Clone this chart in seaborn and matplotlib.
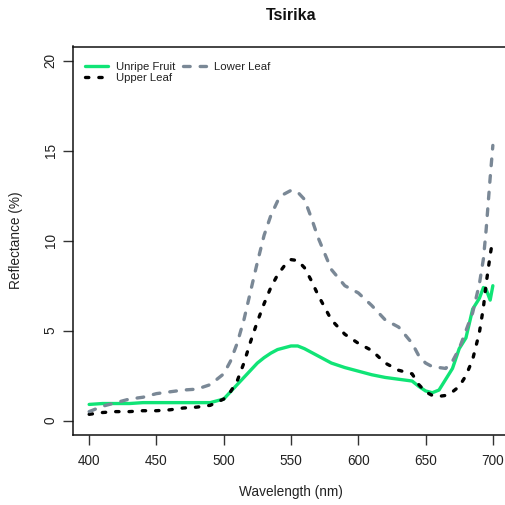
import matplotlib
matplotlib.use("Agg")
import matplotlib.pyplot as plt
import seaborn as sns
import pandas as pd

wavelength = [400, 410, 420, 430, 440, 450, 460, 470, 480, 490, 500, 505, 510, 515,
              520, 525, 530, 535, 540, 545, 550, 555, 560, 565, 570, 580, 590, 600,
              610, 620, 630, 640, 645, 650, 655, 660, 665, 670, 675, 680, 685, 690,
              693, 695, 698, 700]
unripe_fruit = [0.9, 0.95, 0.95, 0.95, 1.0, 1.0, 1.0, 1.0, 1.0, 1.0, 1.2, 1.6, 2.0, 2.4,
                2.8, 3.2, 3.5, 3.75, 3.95, 4.05, 4.15, 4.15, 4.0, 3.8, 3.6, 3.2, 2.95, 2.75,
                2.55, 2.4, 2.3, 2.2, 1.9, 1.65, 1.55, 1.7, 2.3, 2.9, 4.0, 4.6, 6.2, 6.8,
                7.4, 7.3, 6.7, 7.5]
upper_leaf = [0.35, 0.45, 0.5, 0.5, 0.55, 0.55, 0.6, 0.7, 0.75, 0.85, 1.2, 1.6, 2.2, 3.2,
              4.4, 5.5, 6.5, 7.4, 8.1, 8.6, 8.95, 8.9, 8.5, 7.8, 7.0, 5.6, 4.8, 4.3,
              3.9, 3.2, 2.8, 2.6, 2.0, 1.6, 1.4, 1.35, 1.4, 1.6, 1.9, 2.5, 3.4, 4.9,
              6.3, 7.6, 9.2, 10.1]
lower_leaf = [0.5, 0.8, 1.0, 1.2, 1.3, 1.5, 1.6, 1.7, 1.75, 2.0, 2.6, 3.3, 4.3, 5.6,
              7.2, 8.8, 10.3, 11.4, 12.2, 12.6, 12.8, 12.7, 12.3, 11.3, 10.2, 8.4, 7.5, 7.1,
              6.4, 5.6, 5.2, 4.3, 3.6, 3.2, 3.0, 2.95, 2.9, 3.3, 4.0, 5.0, 6.0, 7.6,
              9.0, 10.6, 13.5, 15.3]
series_names = ["Unripe Fruit", "Upper Leaf", "Lower Leaf"]
x_ticks = [400, 450, 500, 550, 600, 650, 700]
y_ticks = [0, 5, 10, 15, 20]
title = "Tsirika"
x_label = "Wavelength (nm)"
y_label = "Reflectance (%)"

sns.set_style("white")
plt.rcParams["font.family"] = ["Liberation Sans", "DejaVu Sans"]
text_color = "#222222"

W, H = 506, 505
fig = plt.figure(figsize=(W / 100, H / 100), dpi=100)
ax = fig.add_axes([73 / W, (H - 435) / H, (509 - 73) / W, (435 - 46.5) / H])

frames = []
for name, vals in zip(series_names, [unripe_fruit, upper_leaf, lower_leaf]):
    frames.append(pd.DataFrame({"Wavelength": wavelength, "Reflectance": vals, "Sample": name}))
df = pd.concat(frames, ignore_index=True)

styles = {
    "Unripe Fruit": dict(color="#10E476", dashes=None),
    "Upper Leaf": dict(color="#000000", dashes=(1, 3)),
    "Lower Leaf": dict(color="#7A8896", dashes=(2, 3)),
}
lw = 2.4
handles = []
for name in series_names:
    sub = df[df["Sample"] == name]
    sty = styles[name]
    n_before = len(ax.get_lines())
    sns.lineplot(data=sub, x="Wavelength", y="Reflectance", ax=ax, color=sty["color"],
                 linewidth=lw, estimator=None, sort=False)
    ln = ax.get_lines()[n_before]
    ln.set_label(name)
    ln.set_solid_capstyle("round")
    ln.set_dash_capstyle("round")
    if sty["dashes"] is not None:
        ln.set_dashes(sty["dashes"])
    handles.append(ln)
if ax.get_legend() is not None:
    ax.get_legend().remove()

ax.set_xlim(388, 712)
ax.set_ylim(-0.8, 20.8)
ax.set_xticks(x_ticks)
ax.set_yticks(y_ticks)
ax.set_xticklabels([str(v) for v in x_ticks])
ax.set_yticklabels([str(v) for v in y_ticks])
ax.tick_params(axis="both", which="major", direction="out", length=7, width=1,
               color="#333333", labelsize=9.8, labelcolor=text_color,
               bottom=True, left=True)
ax.tick_params(axis="x", pad=7)
ax.tick_params(axis="y", labelrotation=90, pad=4)
for lab in ax.get_yticklabels():
    lab.set_va("center")
for sp in ax.spines.values():
    sp.set_visible(True)
    sp.set_color("#111111")
    sp.set_linewidth(1.1)

ax.set_xlabel("")
ax.set_ylabel("")
fig.text(291 / W, 1 - 492 / H, x_label, ha="center", va="center", fontsize=9.8, color=text_color)
fig.text(23 / W, 1 - 240 / H, y_label, ha="right", va="center", rotation=90,
         fontsize=9.8, color=text_color)
fig.text(291 / W, 1 - 16 / H, title, ha="center", va="center", fontsize=11.5,
         fontweight="bold", color="#111111")

leg = fig.legend(handles, series_names, loc="upper left",
                 bbox_to_anchor=(85 / W, 1 - 62 / H), ncol=2, frameon=False,
                 fontsize=8.2, handlelength=2.0, handletextpad=0.7,
                 columnspacing=0.7, labelspacing=0.1, borderpad=0, borderaxespad=0)
for t in leg.get_texts():
    t.set_color(text_color)

fig.savefig("out.png", dpi=100, facecolor="white")
